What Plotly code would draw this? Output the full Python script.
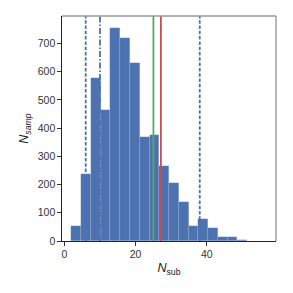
import plotly.graph_objects as go

# Histogram data (counts per bin), bins start at 2 with equal width
bin_start = 2.0
bin_end = 51.3
counts = [52, 237, 576, 464, 756, 718, 629, 368, 377, 267, 204, 139, 54, 77, 45, 14, 14, 5]
nbins = len(counts)
bin_width = (bin_end - bin_start) / nbins
centers = [bin_start + (i + 0.5) * bin_width for i in range(nbins)]

# Reference vertical lines
dashed_lines = [6.0, 38.0]
dashdot_lines = [10.0]
green_line = 25.0
red_line = 27.1

x_ticks = [0, 20, 40]
y_ticks = [0, 100, 200, 300, 400, 500, 600, 700]
x_range = [-0.65, 59.4]
y_range = [0, 797]

blue = "#4C72B0"
fig = go.Figure()
fig.add_trace(go.Bar(
    x=centers, y=counts, width=[bin_width] * nbins,
    marker=dict(color=blue, line=dict(color="rgba(255,255,255,0.2)", width=0.5)),
    showlegend=False,
))

def vline(x, color, dash):
    fig.add_trace(go.Scatter(
        x=[x, x], y=[y_range[0], y_range[1]], mode="lines",
        line=dict(color=color, width=1.8, dash=dash), showlegend=False,
        hoverinfo="skip",
    ))

for x in dashed_lines:
    vline(x, blue, "3.5px,1.8px")
for x in dashdot_lines:
    vline(x, blue, "6px,2px,1.5px,2px")
vline(green_line, "#55A868", "solid")
vline(red_line, "#C44E52", "solid")

fig.update_layout(
    width=293, height=293,
    margin=dict(l=62, r=17, t=16, b=52, autoexpand=False),
    paper_bgcolor="white", plot_bgcolor="white",
    font=dict(family="Liberation Sans, Arial", size=10.5, color="#333333"),
    bargap=0,
    xaxis=dict(
        range=x_range, tickvals=x_ticks, ticks="outside", ticklen=3.5,
        tickcolor="#333333", showgrid=False, zeroline=False, automargin=False,
        showline=True, linecolor="#222222", linewidth=1.2,
        title=dict(text="<i>N</i><sub>sub</sub>", font=dict(size=12.5, color="#222222"), standoff=4),
    ),
    yaxis=dict(
        range=y_range, tickvals=y_ticks, ticks="outside", ticklen=3.5,
        tickcolor="#333333", showgrid=False, zeroline=False, automargin=False,
        showline=True, linecolor="#222222", linewidth=1.2,
        title=dict(text="<i>N</i><sub><i>samp</i></sub>", font=dict(size=12.5, color="#222222"), standoff=6),
    ),
    shapes=[
        dict(type="line", xref="paper", yref="paper", x0=0, x1=1, y0=1, y1=1,
             line=dict(color="#999999", width=1.4)),
        dict(type="line", xref="paper", yref="paper", x0=1, x1=1, y0=0, y1=1,
             line=dict(color="#999999", width=1.4)),
    ],
)

fig.write_html("out.html", config={"displayModeBar": False},
               post_script="document.body.style.margin='0';document.body.style.overflow='hidden';")
